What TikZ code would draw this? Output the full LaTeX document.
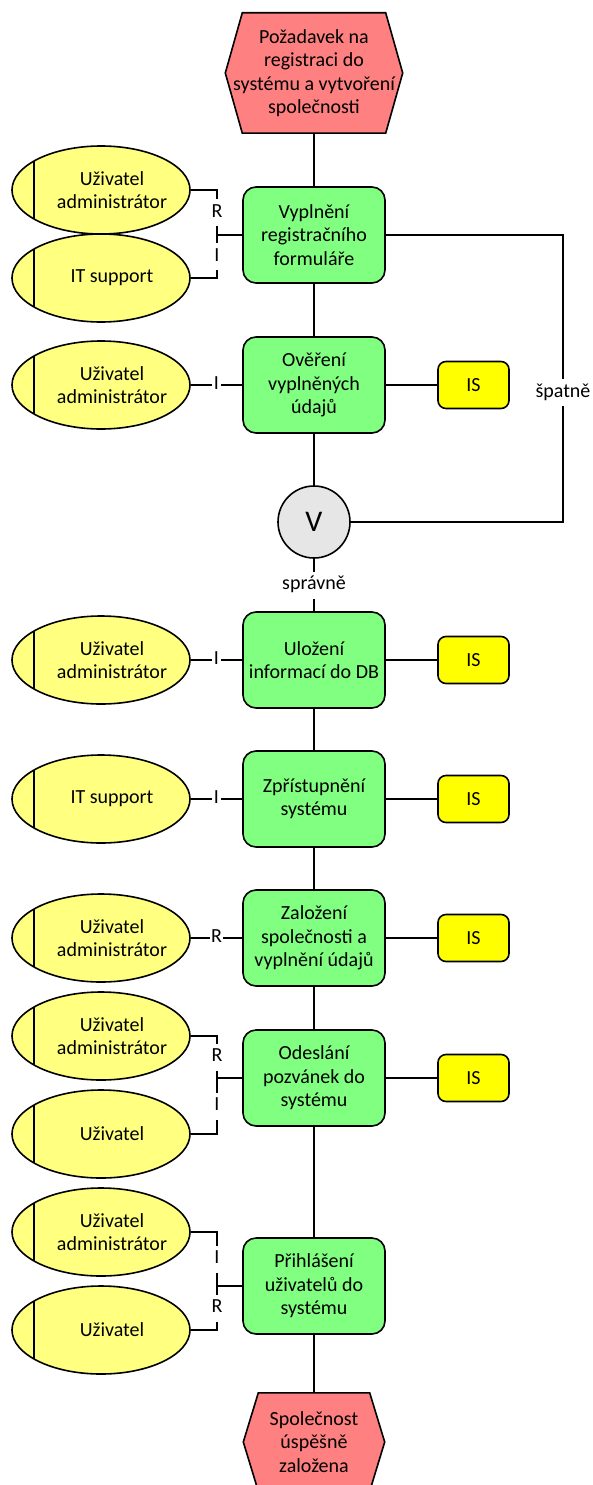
\documentclass[tikz,border=0pt]{standalone}
\usepackage{fontspec}
\setmainfont{Carlito}
\usetikzlibrary{shapes.geometric,backgrounds}

\definecolor{funcgreen}{HTML}{80FF80}
\definecolor{eventred}{HTML}{FF8080}
\definecolor{roleyellow}{HTML}{FFFF80}
\definecolor{sysyellow}{HTML}{FFFF00}
\definecolor{rulegray}{HTML}{E6E6E6}

\tikzset{
  every node/.style={font=\fontsize{20}{23.5}\selectfont},
  conn/.style={line width=1.6pt},
  func/.style={draw, line width=1.6pt, fill=funcgreen, rounded corners=13pt,
    minimum width=142pt, minimum height=96pt, align=center, inner sep=0pt},
  sysbox/.style={draw, line width=1.6pt, fill=sysyellow, rounded corners=8pt,
    minimum width=71pt, minimum height=47pt, inner sep=0pt},
  role/.style={draw, line width=1.6pt, ellipse, fill=roleyellow,
    minimum width=178pt, minimum height=88pt, inner sep=0pt},
  roletxt/.style={align=center, inner sep=0pt},
  eventbox/.style={align=center, inner sep=0pt},
  lbl/.style={fill=white, inner xsep=1.5pt, inner ysep=4pt,
    text height=14pt, text depth=5pt},
  rulenode/.style={circle, draw, line width=1.6pt, fill=rulegray,
    minimum size=72pt, inner sep=0pt, font=\fontsize{30}{30}\selectfont}
}

% an organisational role: ellipse with a vertical stripe on its left side
\newcommand\actor[3]{%
  \node[role] (#1) at (101,#2) {};
  \draw[conn] ([shift={(-67,-29)}]#1.center) -- ([shift={(-67,29)}]#1.center);
  \node[roletxt] (#1t) at (112,#2) {#3};
}

\begin{document}
\begin{tikzpicture}[x=1pt,y=-1pt]
\useasboundingbox (0,0) rectangle (593,1485);

% start and end events
\node[eventbox, minimum width=177pt, minimum height=120pt] (start) at (314,73)
  {Požadavek na\\registraci do\\systému a vytvoření\\společnosti};
\node[eventbox, minimum width=141pt, minimum height=98pt] (finish) at (314,1442)
  {Společnost\\úspěšně\\založena};
\begin{scope}[on background layer]
  \filldraw[conn, fill=eventred]
    ([xshift=17pt]start.north west) -- ([xshift=-17pt]start.north east) -- (start.east)
    -- ([xshift=-17pt]start.south east) -- ([xshift=17pt]start.south west) -- (start.west) -- cycle;
  \filldraw[conn, fill=eventred]
    ([xshift=15pt]finish.north west) -- ([xshift=-15pt]finish.north east) -- (finish.east)
    -- ([xshift=-15pt]finish.south east) -- ([xshift=15pt]finish.south west) -- (finish.west) -- cycle;
\end{scope}

% functions
\node[func] (b1) at (314,235) {Vyplnění\\registračního\\formuláře};
\node[func] (b2) at (314,385) {Ověření\\vyplněných\\údajů};
\node[rulenode] (v) at (314,522) {V};
\node[func] (b3) at (314,660) {Uložení\\informací do DB};
\node[func] (b4) at (314,799) {Zpřístupnění\\systému};
\node[func] (b5) at (314,938) {Založení\\společnosti a\\vyplnění údajů};
\node[func] (b6) at (314,1078) {Odeslání\\pozvánek do\\systému};
\node[func] (b7) at (314,1286) {Přihlášení\\uživatelů do\\systému};

% information systems
\node[sysbox] (s2) at (473.5,385) {IS};
\node[sysbox] (s3) at (473.5,660) {IS};
\node[sysbox] (s4) at (473.5,799) {IS};
\node[sysbox] (s5) at (473.5,938) {IS};
\node[sysbox] (s6) at (473.5,1078) {IS};

% roles
\actor{e1}{190}{Uživatel\\administrátor}
\actor{e2}{278}{IT support}
\actor{e3}{385}{Uživatel\\administrátor}
\actor{e4}{660}{Uživatel\\administrátor}
\actor{e5}{799}{IT support}
\actor{e6}{938}{Uživatel\\administrátor}
\actor{e7}{1036}{Uživatel\\administrátor}
\actor{e8}{1134}{Uživatel}
\actor{e9}{1232}{Uživatel\\administrátor}
\actor{e10}{1330}{Uživatel}

% control flow
\draw[conn] (start.south) -- (b1.north);
\draw[conn] (b1.south) -- (b2.north);
\draw[conn] (b2.south) -- (v.north);
\draw[conn] (v.south) -- node[lbl]{správně} (b3.north);
\draw[conn] (b3.south) -- (b4.north);
\draw[conn] (b4.south) -- (b5.north);
\draw[conn] (b5.south) -- (b6.north);
\draw[conn] (b6.south) -- (b7.north);
\draw[conn] (b7.south) -- (finish.north);
\coordinate (loop) at (563,235);
\draw[conn] (b1.east) -- (loop) |- node[lbl, pos=0.275]{špatně} (v.east);

% system links
\foreach \i in {2,...,6} { \draw[conn] (b\i.east) -- (s\i.west); }

% role links
\coordinate (j1) at (217,235);
\draw[conn] (e1.east) -| node[lbl, pos=0.75]{R} (j1);
\draw[conn] (e2.east) -| node[lbl, pos=0.75]{I} (j1);
\draw[conn] (j1) -- (b1.west);
\draw[conn] (e3.east) -- node[lbl]{I} (b2.west);
\draw[conn] (e4.east) -- node[lbl]{I} (b3.west);
\draw[conn] (e5.east) -- node[lbl]{I} (b4.west);
\draw[conn] (e6.east) -- node[lbl]{R} (b5.west);
\coordinate (j6) at (217,1078);
\draw[conn] (e7.east) -| node[lbl, pos=0.75]{R} (j6);
\draw[conn] (e8.east) -| node[lbl, pos=0.75]{I} (j6);
\draw[conn] (j6) -- (b6.west);
\coordinate (j7) at (217,1286);
\draw[conn] (e9.east) -| node[lbl, pos=0.75]{I} (j7);
\draw[conn] (e10.east) -| node[lbl, pos=0.75]{R} (j7);
\draw[conn] (j7) -- (b7.west);
\end{tikzpicture}
\end{document}
